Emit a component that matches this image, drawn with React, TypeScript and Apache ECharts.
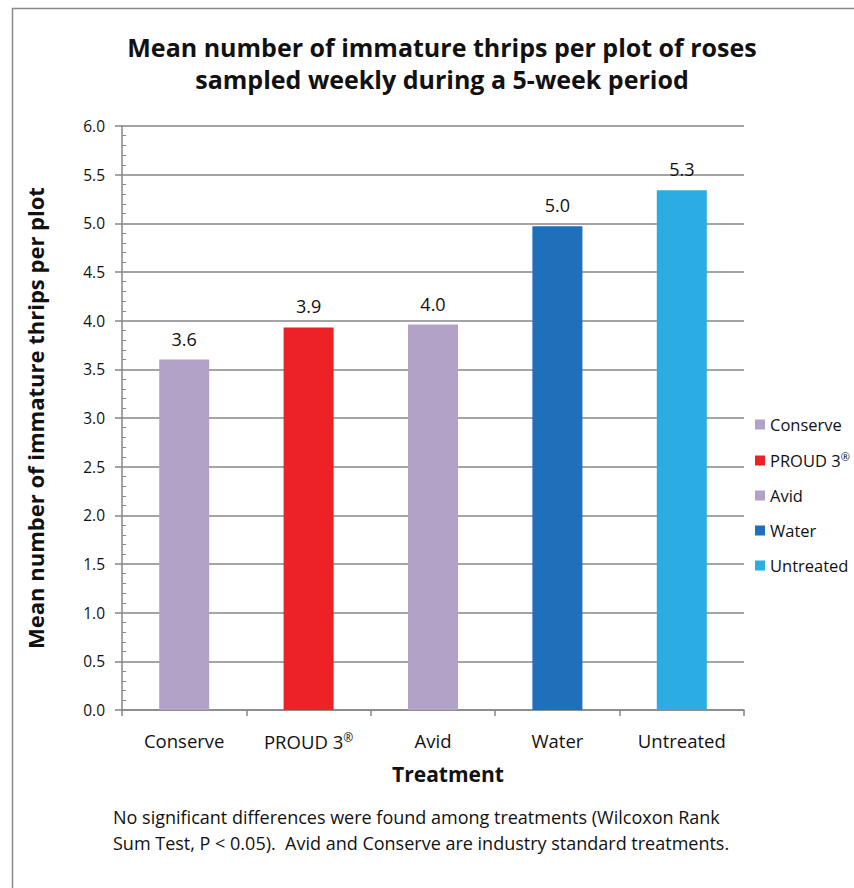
import React, { useEffect, useRef } from "react";
import * as echarts from "echarts";

const categories = ["Conserve", "PROUD 3®", "Avid", "Water", "Untreated"];
const values = [3.6, 3.93, 3.96, 4.97, 5.34];
const colors = ["#B3A2C7", "#ED2227", "#B3A2C7", "#1F6FBA", "#2BACE2"];
const yTicks = { min: 0, max: 6, interval: 0.5 };

const FONT = "'Open Sans', 'Noto Sans', sans-serif";
const sup = (s: string) => s.replace("®", "{sup|®}");

export default function App() {
  const ref = useRef<HTMLDivElement>(null);
  useEffect(() => {
    if (!ref.current) return;
    const chart = echarts.init(ref.current, null, { renderer: "svg" });
    const series = categories.map((name, i) => ({
      name,
      type: "bar",
      stack: "all",
      barWidth: 50,
      itemStyle: { color: colors[i] },
      label: {
        show: true,
        position: "top",
        distance: 12,
        color: "#111",
        fontSize: 18,
        fontFamily: FONT,
        formatter: (p: any) => Number(p.value).toFixed(1),
      },
      data: categories.map((_, j) => (j === i ? values[i] : "-")),
    }));
    chart.setOption({
      animation: false,
      textStyle: { fontFamily: FONT },
      title: {
        text: "Mean number of immature thrips per plot of roses\nsampled weekly during a 5-week period",
        left: 437,
        textAlign: "center",
        top: 26,
        textStyle: { fontSize: 25, fontWeight: "bold", color: "#111", lineHeight: 32, fontFamily: FONT },
      },
      legend: {
        orient: "vertical",
        left: 750,
        top: 411,
        itemWidth: 10,
        itemHeight: 10,
        itemGap: 18,
        icon: "rect",
        formatter: (n: string) => sup(n),
        textStyle: {
          fontSize: 16.5,
          color: "#111",
          fontFamily: FONT,
          rich: { sup: { fontSize: 11, verticalAlign: "top", padding: [0, 0, 8, 0], color: "#111", fontFamily: FONT } },
        },
        data: categories,
      },
      grid: { left: 122, right: 110, top: 126, bottom: 178 },
      xAxis: {
        type: "category",
        data: categories,
        axisLine: { lineStyle: { color: "#868686", width: 1.5 } },
        axisTick: { show: true, length: 6, lineStyle: { color: "#868686", width: 1.5 } },
        axisLabel: {
          interval: 0,
          fontSize: 18.5,
          color: "#111",
          margin: 21,
          fontFamily: FONT,
          formatter: (v: string) => sup(v),
          rich: { sup: { fontSize: 12, padding: [0, 0, 9, 0], color: "#111", fontFamily: FONT } },
        },
      },
      yAxis: [
        {
          type: "value",
          min: yTicks.min,
          max: yTicks.max,
          interval: yTicks.interval,
          name: "Mean number of immature thrips per plot",
          nameLocation: "middle",
          nameGap: 76,
          nameTextStyle: { fontSize: 22, fontWeight: "bold", color: "#111", fontFamily: FONT },
          axisLine: { show: true, lineStyle: { color: "#868686", width: 1.5 } },
          axisTick: { show: true, length: 7, lineStyle: { color: "#868686", width: 1.5 } },
          axisLabel: { fontSize: 15.5, color: "#111", margin: 17, formatter: (v: number) => v.toFixed(1), fontFamily: FONT },
          splitLine: { show: true, lineStyle: { color: "#868686", width: 1.5 } },
        },
        {
          type: "value",
          position: "left",
          min: yTicks.min,
          max: yTicks.max,
          interval: yTicks.interval,
          axisLine: { show: false },
          axisTick: { show: false, inside: true },
          axisLabel: { show: false },
          splitLine: { show: false },
          minorTick: { show: true, splitNumber: 5, length: 4, lineStyle: { color: "#868686", width: 1 } },
        },
      ],
      series,
      graphic: [
        {
          type: "rect",
          shape: { x: 12.5, y: 8.5, width: 1000, height: 1000 },
          style: { fill: "none", stroke: "#8a8a8a", lineWidth: 1.5 },
          silent: true,
        },
        {
          type: "text",
          x: 448,
          y: 774,
          style: {
            text: "Treatment",
            fontSize: 21,
            fontWeight: "bold",
            fill: "#111",
            fontFamily: FONT,
            align: "center",
            verticalAlign: "middle",
          },
        },
        {
          type: "text",
          x: 113,
          y: 804,
          style: {
            text: "No significant differences were found among treatments (Wilcoxon Rank\nSum Test, P < 0.05).  Avid and Conserve are industry standard treatments.",
            fontSize: 18,
            lineHeight: 26,
            fill: "#111",
            fontFamily: FONT,
          },
        },
      ],
    });
    return () => chart.dispose();
  }, []);
  return (
    <div
      ref={ref}
      style={{ position: "absolute", left: 0, top: 0, width: 854, height: 888, overflow: "hidden", background: "#fff" }}
    />
  );
}
